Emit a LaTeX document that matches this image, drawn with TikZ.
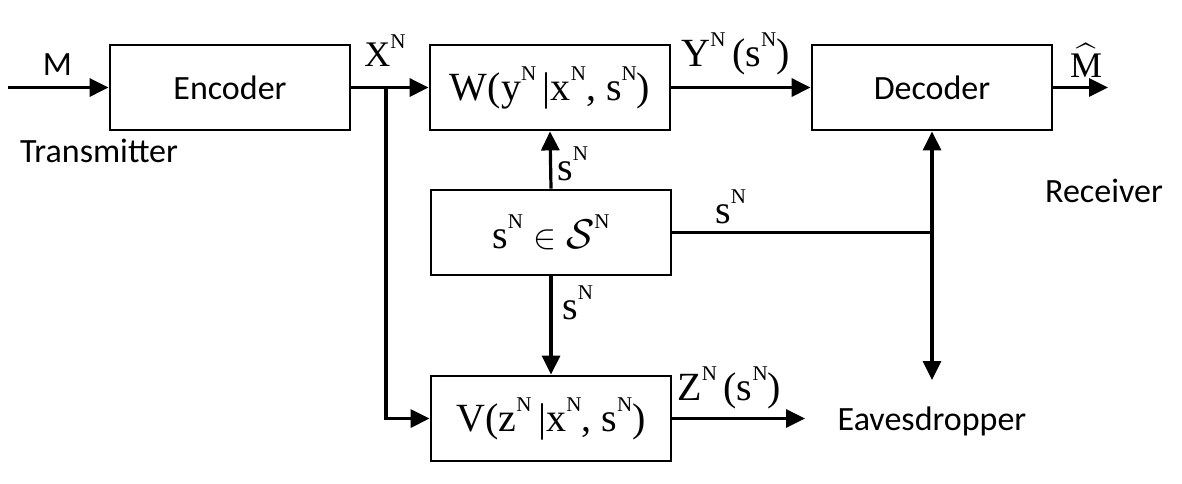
\documentclass[tikz,border=0pt]{standalone}
\usepackage{amsmath}
\usepackage{fontspec}
\setmainfont{Carlito}
\newfontfamily\serif{Liberation Serif}
\usetikzlibrary{arrows.meta}
\newcommand\sN{\raisebox{0.5em}{\fontsize{10.5}{10.5}\selectfont N}}
\newcommand\smallin{{\fontsize{16}{16}\selectfont$\in$}}
\tikzset{
 blk/.style={draw, line width=1.4pt, minimum width=120pt, minimum height=42.5pt, inner sep=0pt, font=\fontsize{17}{20}\selectfont},
 blkm/.style={blk, font=\serif\fontsize{20}{24}\selectfont},
 con/.style={line width=1.6pt, -{Triangle[length=9.5pt,width=9pt]}},
 ln/.style={line width=1.6pt},
 lab/.style={font=\fontsize{17}{20}\selectfont, inner sep=0pt},
 mlab/.style={font=\serif\fontsize{20}{24}\selectfont, inner sep=0pt},
}
\begin{document}
\begin{tikzpicture}[x=0.5pt,y=-0.5pt]
\useasboundingbox (0,0) rectangle (1182,483);
% blocks
\node[blk] (enc) at (230,87.5) {Encoder};
\node[blkm] (W) at (550,87.5) {W(y\sN\,|x\sN, s\sN)};
\node[blk] (dec) at (932,87.5) {Decoder};
\node[blkm] (st) at (551,232.5) {s\sN\ \smallin\ $\mathcal{S}$\sN};
\node[blkm] (V) at (551,418.5) {V(z\sN\,|x\sN, s\sN)};
% coordinates
\coordinate (min) at (8,87.5);
\coordinate (j1) at (386,87.5);
\coordinate (mout) at (1108,87.5);
\coordinate (j2) at (932,232.5);
\coordinate (eav) at (932,380);
\coordinate (zout) at (805,418.5);
% connectors
\draw[con] (min) -- (enc.west);
\draw[con] (enc.east) -- (W.west);
\draw[con] (j1) |- (V.west);
\draw[con] (W.east) -- (dec.west);
\draw[con] (dec.east) -- (mout);
\draw[con] (st.north) -- (W.south);
\draw[con] (st.south) -- (V.north);
\draw[ln] (st.east) -- (j2);
\draw[con] (j2) -- (dec.south);
\draw[con] (j2) -- (eav);
\draw[con] (V.east) -- (zout);
% labels
\node[lab, anchor=base] (lm) at (57.5,75) {M};
\node[lab, anchor=base] (ltx) at (99,162) {Transmitter};
\node[lab, anchor=base] (lrx) at (1104,202) {Receiver};
\node[lab, anchor=base] (lev) at (932,430) {Eavesdropper};
\node[mlab, anchor=base west, font=\serif\fontsize{18}{20}\selectfont] (lx) at (364,66) {X\sN};
\node[mlab, anchor=base west] (ly) at (681,66) {Y\sN\,(s\sN)};
\node[mlab, anchor=base west] (lz) at (677,400) {Z\sN\,(s\sN)};
\node[mlab, anchor=base, font=\serif\fontsize{18}{20}\selectfont] (lmh) at (1086,77) {$\widehat{\text{M}}$};
\node[mlab, anchor=base west] (ls1) at (557,180) {s\sN};
\node[mlab, anchor=base west] (ls2) at (715,223) {s\sN};
\node[mlab, anchor=base west] (ls3) at (562,319) {s\sN};
\end{tikzpicture}
\end{document}
